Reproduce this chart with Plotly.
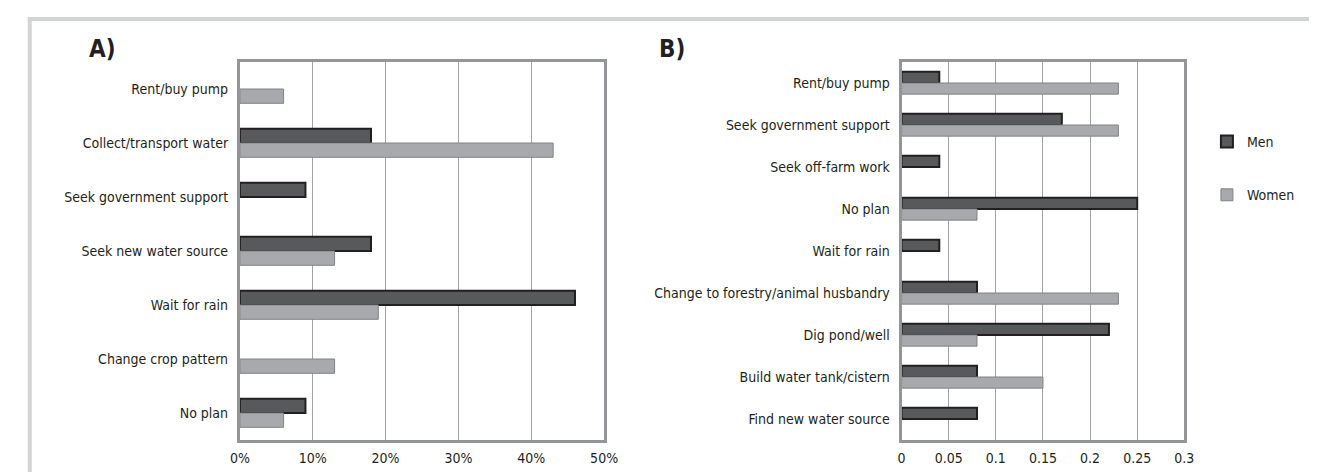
import plotly.graph_objects as go

# ---- Data ----
cats_a = ["Rent/buy pump", "Collect/transport water", "Seek government support",
          "Seek new water source", "Wait for rain", "Change crop pattern", "No plan"]
men_a = [None, 18, 9, 18, 46, None, 9]
women_a = [6, 43, None, 13, 19, 13, 6]
ticks_a = [0, 10, 20, 30, 40, 50]

cats_b = ["Rent/buy pump", "Seek government support", "Seek off-farm work", "No plan",
          "Wait for rain", "Change to forestry/animal husbandry", "Dig pond/well",
          "Build water tank/cistern", "Find new water source"]
men_b = [0.04, 0.17, 0.04, 0.25, 0.04, 0.08, 0.22, 0.08, 0.08]
women_b = [0.23, 0.23, None, 0.08, None, 0.23, 0.08, 0.15, None]
ticks_b = [0, 0.05, 0.1, 0.15, 0.2, 0.25, 0.3]

series_names = ["Men", "Women"]

# ---- Style ----
W, H = 1317, 472
FONT = "DejaVu Sans Condensed, Liberation Sans Narrow, sans-serif"
TXT = "#231f20"
MEN_FILL, MEN_LINE = "#58595b", "#231f20"
WOM_FILL, WOM_LINE = "#a7a9ac", "#808285"
FRAME = "#939598"
GRID = "#a0a2a5"
FS = 14

def px(x):
    return x / W

def py(y):
    return 1 - y / H

fig = go.Figure()

fig.add_trace(go.Bar(y=cats_a, x=men_a, orientation="h", name=series_names[0],
                     marker=dict(color=MEN_FILL, line=dict(color=MEN_LINE, width=2)),
                     xaxis="x", yaxis="y", showlegend=False, legendgroup="m"))
fig.add_trace(go.Bar(y=cats_a, x=women_a, orientation="h", name=series_names[1],
                     marker=dict(color=WOM_FILL, line=dict(color=WOM_LINE, width=1)),
                     xaxis="x", yaxis="y", showlegend=False, legendgroup="w"))
fig.add_trace(go.Bar(y=cats_b, x=men_b, orientation="h", name=series_names[0],
                     marker=dict(color=MEN_FILL, line=dict(color=MEN_LINE, width=2)),
                     xaxis="x2", yaxis="y2", legendgroup="m"))
fig.add_trace(go.Bar(y=cats_b, x=women_b, orientation="h", name=series_names[1],
                     marker=dict(color=WOM_FILL, line=dict(color=WOM_LINE, width=1)),
                     xaxis="x2", yaxis="y2", legendgroup="w"))

y_dom = [py(432), py(54)]
common_x = dict(showline=True, mirror=True, linecolor=FRAME, linewidth=3,
                showgrid=True, gridcolor=GRID, gridwidth=1, zeroline=False,
                ticks="", ticklabelstandoff=3,
                tickfont=dict(family=FONT, size=FS, color=TXT), fixedrange=True)
common_y = dict(showline=True, mirror=True, linecolor=FRAME, linewidth=3,
                showgrid=False, zeroline=False, autorange="reversed",
                ticks="", ticklabelstandoff=6,
                tickfont=dict(family=FONT, size=FS, color=TXT), fixedrange=True)

fig.update_layout(
    width=W, height=H,
    margin=dict(l=0, r=0, t=0, b=0),
    paper_bgcolor="white", plot_bgcolor="white",
    barmode="group", bargap=0.47, bargroupgap=0,
    font=dict(family=FONT, size=FS, color=TXT),
    xaxis=dict(domain=[px(226), px(597)], range=[0, 50], tickvals=ticks_a,
               ticktext=[f"{t}%" for t in ticks_a], anchor="y", **common_x),
    yaxis=dict(domain=y_dom, anchor="x", **common_y),
    xaxis2=dict(domain=[px(900), px(1188)], range=[0, 0.3], tickvals=ticks_b,
                ticktext=[f"{t:g}" for t in ticks_b], anchor="y2", **common_x),
    yaxis2=dict(domain=y_dom, anchor="x2", **common_y),
    legend=dict(x=px(1211), y=py(118), xanchor="left", yanchor="top",
                font=dict(family=FONT, size=FS, color=TXT),
                tracegroupgap=32, bgcolor="rgba(0,0,0,0)", itemwidth=30),
    showlegend=True,
)

# outer light frame (top and left edges)
fig.add_shape(type="line", xref="paper", yref="paper", x0=px(10), x1=1.0, y0=py(11), y1=py(11),
              line=dict(color="#d1d3d4", width=4))
fig.add_shape(type="line", xref="paper", yref="paper", x0=px(12), x1=px(12), y0=py(9), y1=0,
              line=dict(color="#d1d3d4", width=4))

fig.add_annotation(text="<b>A)</b>", xref="paper", yref="paper", x=px(70), y=py(41),
                   xanchor="left", yanchor="middle", showarrow=False,
                   font=dict(family=FONT, size=24, color=TXT))
fig.add_annotation(text="<b>B)</b>", xref="paper", yref="paper", x=px(651), y=py(41),
                   xanchor="left", yanchor="middle", showarrow=False,
                   font=dict(family=FONT, size=24, color=TXT))

fig.write_html("out.html")
